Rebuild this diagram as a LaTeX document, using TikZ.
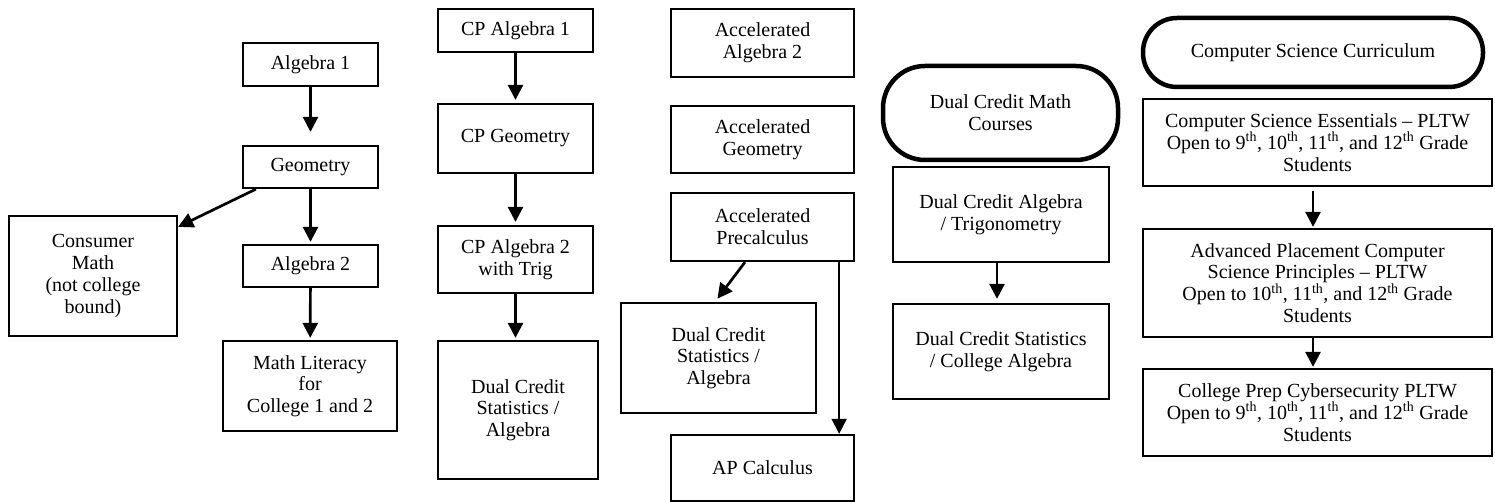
\documentclass[tikz,border=0pt]{standalone}
\usepackage{fontspec}
\setmainfont{Liberation Serif}
\usetikzlibrary{arrows.meta}

\begin{document}
\begin{tikzpicture}[%
    x=1pt, y=-1pt,
    >={Triangle[length=15pt,width=15pt]},
    course/.style={draw, line width=2.3pt, align=center, inner sep=2pt,
      font=\fontsize{20}{21.7}\selectfont},
    track/.style={course, line width=4.5pt, rounded corners=34pt},
    flow/.style={->, line width=2.7pt}
  ]
  \useasboundingbox (0,0) rectangle (1495,502);

  \node[course, minimum width=135, minimum height=43] (alg1) at (310.5,64.5) {Algebra 1};
  \node[course, minimum width=135, minimum height=42] (geom) at (310.5,167) {Geometry};
  \node[course, minimum width=168, minimum height=120] (cons) at (93,276)
      {Consumer\\Math\\(not college\\bound)};
  \node[course, minimum width=135, minimum height=42] (alg2) at (310.5,266) {Algebra 2};
  \node[course, minimum width=174, minimum height=90] (lit) at (310,386)
      {Math Literacy\\for\\College 1 and 2};

  \node[course, minimum width=155, minimum height=43] (cpalg1) at (515.5,30.5) {CP Algebra 1};
  \node[course, minimum width=155, minimum height=69] (cpgeom) at (515.5,138.5) {CP Geometry};
  \node[course, minimum width=155, minimum height=67] (cpalg2) at (515.5,259.5)
      {CP Algebra 2\\with Trig};
  \node[course, minimum width=160, minimum height=138] (cpstat) at (518,410)
      {Dual Credit\\Statistics /\\Algebra};

  \node[course, minimum width=183, minimum height=68] (accalg2) at (762.5,43)
      {Accelerated\\Algebra 2};
  \node[course, minimum width=183, minimum height=67] (accgeom) at (762.5,139.5)
      {Accelerated\\Geometry};
  \node[course, minimum width=183, minimum height=68] (accpre) at (762.5,227)
      {Accelerated\\Precalculus};
  \node[course, minimum width=195, minimum height=110] (accstat) at (718.5,358)
      {Dual Credit\\Statistics /\\Algebra};
  \node[course, minimum width=183, minimum height=66] (apcalc) at (762.5,468) {AP Calculus};

  \node[track, rounded corners=42pt, minimum width=235, minimum height=94] (dcmath) at (1000.5,113)
      {Dual Credit Math\\Courses};
  \node[course, minimum width=216, minimum height=95] (dctrig) at (1001,214.5)
      {Dual Credit Algebra\\/ Trigonometry};
  \node[course, minimum width=216, minimum height=95] (dccoll) at (1001,351.5)
      {Dual Credit Statistics\\/ College Algebra};

  \node[track, minimum width=340, minimum height=69] (cscurr) at (1313,52.5)
      {Computer Science Curriculum};
  \node[course, minimum width=349, minimum height=87] (csess) at (1317.5,142.5)
      {Computer Science Essentials -- PLTW\\
       Open to 9\textsuperscript{th}, 10\textsuperscript{th}, 11\textsuperscript{th}, and 12\textsuperscript{th} Grade\\Students};
  \node[course, minimum width=349, minimum height=108] (apcsp) at (1317.5,283)
      {Advanced Placement Computer\\Science Principles -- PLTW\\
       Open to 10\textsuperscript{th}, 11\textsuperscript{th}, and 12\textsuperscript{th} Grade\\Students};
  \node[course, minimum width=349, minimum height=87] (cyber) at (1317.5,412.5)
      {College Prep Cybersecurity PLTW\\
       Open to 9\textsuperscript{th}, 10\textsuperscript{th}, 11\textsuperscript{th}, and 12\textsuperscript{th} Grade\\Students};

  \draw[flow, shorten >=13pt] (alg1) -- (geom);
  \draw[flow] ([xshift=14pt]geom.south west) -- ([yshift=-12pt]cons.north east);
  \draw[flow, shorten >=2pt] (geom) -- (alg2);
  \draw[flow, shorten >=2pt] (alg2) -- (lit);

  \draw[flow, shorten >=3pt] (cpalg1) -- (cpgeom);
  \draw[flow, shorten >=3pt] (cpgeom) -- (cpalg2);
  \draw[flow, shorten >=2pt] (cpalg2) -- (cpalg2 |- cpstat.north);

  \draw[flow, shorten >=4pt] ([xshift=-17.5pt]accpre.south) -- ([xshift=-3.5pt]accstat.north);
  \draw[->, line width=1.8pt] ([xshift=-16pt]accpre.south east) -- ([xshift=-16pt]apcalc.north east);

  \draw[flow, shorten >=4pt] ([xshift=-4pt]dctrig.south) -- ([xshift=-4pt]dccoll.north);

  \draw[flow, shorten <=4pt, shorten >=1pt] ([xshift=-4.5pt]csess.south) -- ([xshift=-4.5pt]apcsp.north);
  \draw[flow, shorten >=1pt] ([xshift=-4.5pt]apcsp.south) -- ([xshift=-4.5pt]cyber.north);

\end{tikzpicture}
\end{document}
